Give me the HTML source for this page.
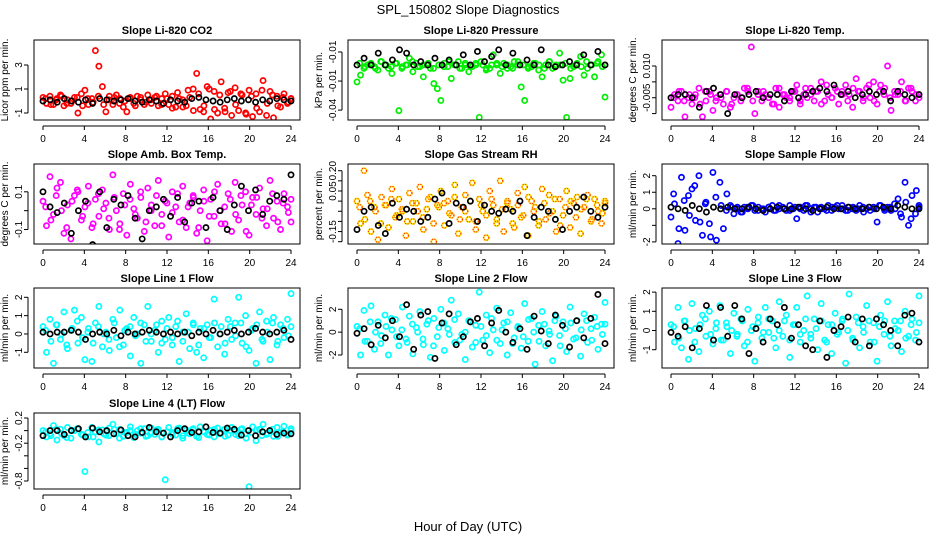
<!DOCTYPE html>
<html><head><meta charset="utf-8"><style>
html,body{margin:0;padding:0;background:#fff;}
svg{display:block;font-family:"Liberation Sans",sans-serif;}
</style></head><body>
<svg id="chart" width="936" height="540" viewBox="0 0 936 540" xmlns="http://www.w3.org/2000/svg">
<rect width="936" height="540" fill="#fff"/>
<text x="468" y="14" font-size="13" text-anchor="middle">SPL_150802  Slope Diagnostics</text>
<text x="468" y="531" font-size="13" text-anchor="middle">Hour of Day (UTC)</text>
</svg>
<script>
const xTicks = [0,4,8,12,16,20,24];

const co2Colored = [0.3,-0.2,0.4,-0.3,0.2,0.5,-0.4,0.1,-0.2,0.3,-1.0,0.6,0.9,-0.3,0.2,4.2,2.9,1.2,-0.9,0.4,-0.3,0.5,0.2,-0.5,-0.9,0.3,-0.2,0.4,0.1,-0.3,0.5,-0.2,0.3,-0.4,0.2,0.6,-0.3,0.4,-0.5,0.2,0.1,-0.4,0.3,1.0,2.3,-0.7,-0.9,1.2,-1.5,0.8,-1.0,1.6,-0.6,0.7,-1.2,1.1,-0.8,0.5,-1.0,0.9,-1.3,0.6,-0.9,1.7,-1.2,0.8,-1.4,0.4,-0.5,0.6,-0.2,0.2];
const co2Band = [0.2,-0.3,0.1,0.4,-0.2,0.0,0.3,-0.4,0.2,-0.1,0.4,-0.3,0.1,0.3,-0.2,0.0,0.2,-0.4,0.3,-0.1,0.1,0.4,-0.3,0.2,-0.6,0.7,-0.5,0.9,-0.8,0.6,-0.4,1.0,-0.7,0.5,-0.9,0.8,-0.3,0.6,-1.1,0.4,-0.6,0.9,-0.2,0.5,-0.4,0.3,-0.1,0.2];
const co2Black = [0.0,0.1,-0.1,0.2,0.0,-0.1,0.1,-0.2,0.2,0.1,0.0,0.1,0.2,0.0,-0.1,0.1,0.0,-0.2,0.1,0.0,-0.1,0.2,0.3,0.1,0.0,-0.1,0.1,0.2,0.0,0.1,-0.1,0.1,0.0,0.2,0.1,0.0];

const presColored = [-0.020,-0.016,-0.012,-0.010,-0.009,-0.011,-0.013,-0.008,-0.010,-0.012,-0.015,-0.009,-0.037,-0.011,-0.010,-0.006,-0.014,-0.009,-0.011,-0.017,-0.010,-0.012,-0.021,-0.024,-0.031,-0.009,-0.011,-0.018,-0.010,-0.008,-0.012,-0.010,-0.014,-0.011,-0.009,-0.041,-0.010,-0.013,-0.012,-0.004,-0.010,-0.015,-0.009,-0.012,-0.011,-0.008,-0.010,-0.023,-0.031,-0.012,-0.011,-0.009,-0.013,-0.017,-0.010,-0.008,-0.012,-0.010,-0.003,-0.019,-0.041,-0.018,-0.011,-0.009,-0.005,-0.016,-0.012,-0.010,-0.017,-0.008,-0.004,-0.029];
const presBand = [-0.009,-0.011,-0.010,-0.012,-0.008,-0.010,-0.011,-0.009,-0.012,-0.010,-0.008,-0.011,-0.010,-0.009,-0.012,-0.010,-0.011,-0.008,-0.010,-0.012,-0.009,-0.011,-0.010,-0.008,-0.012,-0.010,-0.009,-0.011,-0.010,-0.012,-0.008,-0.010,-0.011,-0.009,-0.010,-0.012,-0.008,-0.011,-0.010,-0.009,-0.012,-0.010,-0.011,-0.008,-0.010,-0.009,-0.011,-0.010];
const presBlack = [-0.010,-0.006,-0.010,-0.003,-0.010,-0.007,-0.001,-0.003,-0.010,-0.008,-0.010,-0.006,-0.010,-0.007,-0.010,-0.004,-0.010,-0.002,-0.008,-0.005,-0.001,-0.010,-0.003,-0.010,-0.007,-0.010,-0.001,-0.010,-0.011,-0.010,-0.008,-0.010,-0.004,-0.010,-0.002,-0.010];

const tempColored = [-0.003,0.001,-0.001,0.002,-0.006,0.000,-0.002,0.001,0.003,-0.006,-0.001,0.002,-0.004,0.000,0.001,-0.002,0.002,-0.003,0.000,0.001,-0.001,0.003,0.002,0.016,-0.005,0.002,-0.001,0.001,0.000,-0.002,0.003,-0.003,0.001,0.000,-0.001,0.002,0.004,-0.002,0.001,0.000,0.003,-0.001,0.002,0.005,-0.001,0.001,0.000,0.003,-0.002,0.002,0.004,0.001,-0.003,0.006,0.002,-0.001,0.003,0.000,0.005,-0.002,0.004,0.001,0.010,-0.004,0.002,0.001,0.005,-0.001,0.003,0.002,-0.001,0.001];
const tempBand = [0.000,0.002,-0.001,0.001,0.000,-0.002,0.002,0.001,-0.001,0.000,0.002,-0.002,0.001,0.000,0.003,-0.001,0.001,0.002,0.000,-0.002,0.003,0.001,0.000,0.002,-0.001,0.003,0.001,0.002,-0.002,0.004,0.000,0.002,0.001,-0.001,0.003,0.002,0.000,0.004,-0.001,0.002,0.003,0.000,0.001,0.002,-0.001,0.003,0.001,0.000];
const tempBlack = [0.000,0.001,0.001,0.000,-0.003,0.002,0.003,0.001,-0.005,0.001,0.000,0.001,0.002,0.000,0.001,0.001,-0.001,0.002,0.000,0.001,0.002,0.003,0.002,0.004,0.001,0.002,0.000,0.001,0.002,0.001,0.002,-0.001,0.002,0.001,0.000,0.001];

const boxColored = [0.05,-0.08,0.18,-0.02,0.12,0.15,-0.12,0.03,-0.15,0.08,0.10,-0.05,0.02,0.13,-0.09,0.06,-0.03,0.11,0.04,-0.10,0.19,0.00,-0.07,0.09,-0.13,0.14,0.01,-0.04,0.07,-0.11,0.12,0.03,-0.08,0.16,-0.02,0.05,-0.14,0.10,0.02,-0.06,0.13,-0.09,0.04,0.08,-0.12,0.00,0.11,-0.16,0.06,-0.03,0.14,-0.07,0.02,0.09,-0.11,0.15,-0.05,0.03,0.10,-0.13,0.07,-0.02,0.12,0.01,-0.08,0.16,-0.04,0.05,-0.10,0.09,0.02,-0.06];
const boxBand = [0.02,-0.05,0.08,0.00,-0.09,0.05,0.11,-0.03,0.04,-0.07,0.09,0.01,-0.04,0.07,-0.10,0.03,0.06,-0.02,0.10,-0.06,0.00,0.08,-0.08,0.04,-0.01,0.09,-0.05,0.02,0.07,-0.09,0.05,-0.03,0.10,0.00,-0.07,0.06,-0.02,0.08,-0.11,0.03,0.07,-0.04,0.01,0.09,-0.06,0.04,-0.01,0.06];
const boxBlack = [0.10,0.02,-0.01,0.04,-0.12,0.00,0.05,-0.18,0.10,-0.09,0.06,0.03,0.08,-0.04,-0.15,0.00,0.02,0.06,-0.03,0.07,-0.06,0.04,0.05,-0.09,0.07,0.00,-0.10,0.03,0.13,0.00,0.11,-0.02,0.05,0.08,0.06,0.19];

const rhColored = [0.05,-0.06,0.20,0.08,-0.10,0.02,-0.14,0.07,0.03,-0.08,0.11,-0.03,0.06,0.00,-0.12,0.09,-0.05,0.04,0.12,-0.09,0.01,0.07,-0.15,0.03,0.10,-0.07,0.05,-0.02,0.13,-0.11,0.02,0.08,-0.04,0.14,-0.09,0.06,0.00,-0.13,0.10,0.03,-0.06,0.15,-0.10,0.04,0.01,-0.08,0.09,-0.03,0.12,-0.12,0.05,0.02,-0.07,0.11,-0.04,0.08,0.00,-0.10,0.06,-0.02,0.10,-0.08,0.04,0.07,-0.11,0.02,0.08,-0.05,0.06,0.00,-0.06,0.05];
const rhBand = [0.02,-0.04,0.05,0.00,-0.06,0.03,0.06,-0.02,0.01,-0.05,0.04,0.00,-0.03,0.06,-0.06,0.02,0.04,-0.01,0.07,-0.04,0.00,0.05,-0.05,0.03,-0.02,0.06,-0.04,0.01,0.05,-0.06,0.03,-0.02,0.07,0.00,-0.05,0.04,-0.01,0.06,-0.07,0.02,0.05,-0.03,0.01,0.06,-0.04,0.03,-0.01,0.04];
const rhBlack = [-0.09,0.00,0.02,-0.07,-0.11,0.04,-0.03,0.01,0.00,-0.05,-0.03,0.06,0.09,-0.06,0.04,0.02,0.05,-0.05,0.03,0.00,-0.01,0.01,0.00,0.05,-0.12,-0.03,0.02,0.00,-0.04,-0.09,0.00,0.02,0.07,0.00,-0.03,0.02];

const sampleColored = [-0.5,0.3,-2.1,1.9,-1.3,0.8,1.2,-0.7,2.0,-1.6,0.4,-0.9,2.2,-1.9,1.6,-1.2,0.9,0.2,-0.3,0.1,-0.2,0.1,0.0,0.2,-0.1,0.1,0.0,-0.2,0.1,0.2,-0.1,0.0,0.1,-0.1,0.2,0.0,-0.6,0.1,-0.1,0.2,0.0,0.1,-0.2,0.1,0.0,0.2,-0.1,0.1,0.0,0.2,-0.1,0.1,0.0,-0.1,0.2,0.1,0.0,-0.1,0.1,-0.8,0.2,0.0,0.1,-0.1,0.3,0.6,-0.5,1.6,-1.0,0.8,-0.3,0.1];
const sampleBand = [0.9,-1.2,0.5,-0.4,1.4,-0.8,0.3,-1.7,0.7,0.2,-0.1,0.1,0.0,-0.2,0.1,0.2,-0.1,0.0,0.1,-0.1,0.2,0.0,-0.1,0.1,0.0,0.2,-0.2,0.1,0.0,-0.1,0.1,0.2,0.0,-0.1,0.1,0.0,-0.2,0.1,0.0,0.2,-0.1,0.1,0.0,-0.3,0.4,-0.6,1.1,0.2];
const sampleBlack = [0.1,0.0,-0.1,0.2,0.0,-0.2,0.1,0.0,0.1,0.0,0.0,0.1,0.0,-0.1,0.0,0.1,0.0,0.0,0.1,0.0,-0.1,0.0,0.1,0.0,0.0,0.1,0.0,0.0,0.1,0.0,0.1,0.0,0.2,0.1,0.0,0.0];

const line1Colored = [0.4,-1.0,0.8,-1.6,0.5,-0.3,1.2,-0.8,0.2,1.3,-0.5,0.9,-1.4,0.3,-1.5,0.6,1.5,-0.7,0.1,-0.9,0.8,-0.2,1.3,-0.6,0.3,-1.2,0.9,0.0,-1.6,0.5,1.5,-0.4,0.2,-1.0,0.7,-0.3,0.9,-0.6,0.4,-1.5,0.1,1.1,-0.8,0.6,-1.0,0.3,-1.3,0.5,-0.2,1.9,-0.7,0.4,-1.1,0.8,-0.3,0.6,2.0,-0.5,1.0,-0.9,0.3,-1.6,1.2,-0.4,0.7,-1.4,0.9,-0.6,0.5,-0.2,0.8,2.2];
const line1Band = [0.2,-0.4,0.5,0.0,-0.6,0.3,0.7,-0.2,0.1,-0.5,0.4,0.0,-0.3,0.6,-0.7,0.2,0.4,-0.1,0.6,-0.4,0.0,0.5,-0.5,0.3,-0.2,0.7,-0.4,0.1,0.5,-0.6,0.3,-0.2,0.6,0.0,-0.5,0.4,-0.1,0.6,-0.7,0.2,0.5,-0.3,0.1,0.6,-0.4,0.3,-0.1,0.4];
const line1Black = [0.1,0.0,0.1,0.1,0.2,0.1,-0.3,0.0,0.1,0.0,0.2,-0.1,0.1,0.0,0.1,0.2,0.1,0.0,0.1,0.0,0.1,-0.1,0.1,0.0,0.2,0.0,0.1,0.2,0.0,0.1,0.3,0.1,0.0,0.1,0.2,-0.3];

const line2Colored = [0.5,-2.0,1.9,-0.8,2.3,-1.5,0.9,-0.3,1.5,-2.0,0.2,1.1,-1.2,2.2,-0.6,1.4,-1.9,0.4,1.8,-1.1,0.7,-2.2,1.2,-0.4,2.0,-1.6,0.3,2.8,-0.9,1.6,-0.2,-2.4,1.0,-1.3,0.6,3.5,-0.7,1.5,-1.8,0.2,2.1,-1.0,0.8,-2.0,1.7,-0.5,0.4,-1.4,2.5,-0.8,1.2,-2.8,0.6,1.8,-1.2,0.1,-2.5,1.4,-0.3,0.9,-1.7,2.2,-0.6,1.0,-2.1,1.6,-0.9,0.3,1.3,-1.5,0.7,2.6];
const line2Band = [0.3,-0.8,0.9,0.0,-1.0,0.5,1.2,-0.4,0.2,-0.9,0.7,0.0,-0.6,1.0,-1.2,0.4,0.8,-0.2,1.1,-0.7,0.0,0.9,-0.9,0.5,-0.3,1.2,-0.7,0.2,0.9,-1.0,0.5,-0.4,1.1,0.0,-0.8,0.7,-0.2,1.0,-1.2,0.3,0.8,-0.5,0.2,1.0,-0.7,0.5,-0.2,0.7];
const line2Black = [-0.1,0.3,-1.1,0.6,-0.5,1.0,-0.4,2.4,-1.5,1.5,1.8,-2.3,0.8,1.6,-1.1,-0.4,0.9,1.2,-1.2,0.8,1.9,0.0,-0.9,0.3,-1.5,1.4,0.1,-1.0,1.5,0.6,-1.3,1.0,-0.5,1.2,3.3,-1.0];

const line3Colored = [0.3,-0.6,1.2,-0.9,0.5,-1.5,1.4,0.1,-1.1,0.8,-0.3,1.0,-0.7,0.4,1.3,-0.5,0.2,-1.2,0.9,-0.2,0.6,-0.8,1.1,0.0,-1.6,0.7,-0.4,1.2,-0.1,0.5,-0.9,1.5,-0.3,0.8,-1.4,0.3,1.2,-0.6,0.0,1.8,-0.2,0.6,-1.0,1.4,-0.5,0.3,-1.2,0.9,-0.1,0.5,-1.7,1.9,-0.4,0.7,-0.9,0.2,1.3,-0.6,0.4,-1.6,0.8,-0.2,1.5,-0.8,0.5,0.0,-1.1,1.0,-0.3,0.6,-0.5,1.8];
const line3Band = [0.2,-0.4,0.5,0.0,-0.6,0.3,0.6,-0.2,0.1,-0.5,0.4,0.0,-0.3,0.5,-0.6,0.2,0.4,-0.1,0.6,-0.4,0.0,0.5,-0.5,0.3,-0.2,0.6,-0.4,0.1,0.5,-0.6,0.3,-0.2,0.6,0.0,-0.5,0.4,-0.1,0.5,-0.6,0.2,0.5,-0.3,0.1,0.5,-0.4,0.3,-0.1,0.4];
const line3Black = [-0.1,-0.3,0.2,-0.9,0.1,1.3,-0.5,1.2,-0.3,1.3,0.6,-1.2,0.1,-0.6,0.6,0.3,1.2,-0.4,0.3,-0.8,-1.0,0.5,-1.4,0.0,0.2,0.7,-0.6,0.6,-0.8,0.6,0.3,0.0,-0.8,0.8,0.9,-0.6];

const line4Colored = [0.0,-0.1,-0.05,0.08,-0.15,0.02,-0.08,0.05,-0.12,0.0,0.03,-0.06,-0.65,-0.1,0.05,-0.02,-0.18,0.01,-0.07,0.04,0.1,-0.05,0.02,-0.09,-0.03,0.06,-0.11,0.0,-0.04,0.03,-0.08,0.04,-0.06,0.02,-0.1,-0.78,0.05,-0.03,-0.07,0.04,-0.12,0.01,-0.05,0.03,-0.09,0.06,-0.02,-0.06,0.0,-0.1,0.04,-0.04,0.02,-0.07,0.05,-0.01,-0.08,0.03,-0.05,-0.89,0.06,-0.16,0.02,0.1,-0.06,0.0,-0.09,0.05,-0.03,0.07,-0.07,0.03];
const line4Band = [-0.02,-0.08,0.02,-0.05,-0.11,0.0,0.03,-0.07,-0.03,-0.10,0.01,-0.05,-0.08,0.02,-0.12,-0.03,0.0,-0.06,0.03,-0.09,-0.04,0.01,-0.10,-0.02,-0.06,0.03,-0.08,-0.04,0.01,-0.11,-0.02,-0.07,0.02,-0.05,-0.09,0.0,-0.06,0.02,-0.12,-0.03,0.01,-0.08,-0.04,0.02,-0.09,-0.01,-0.06,0.0];
const line4Black = [-0.08,0.0,0.0,-0.06,0.0,0.03,-0.1,0.04,-0.02,0.0,-0.05,0.01,-0.08,-0.1,-0.03,0.05,-0.02,-0.04,-0.1,0.0,0.03,-0.03,-0.02,0.06,-0.03,-0.04,0.04,0.02,-0.07,0.0,-0.08,-0.02,0.0,-0.06,-0.04,-0.05];

const co2Ticks=[-1,1,3], co2TickLabels=["-1","1","3"];
const presTicks=[-0.0023,-0.0195,-0.0367], presTickLabels=["-0.01","-0.01","-0.04"];
const tempTicks=[0.010,0.005,0.0,-0.005], tempTickLabels=["0.010","","-0.005",""];
const boxTicks=[-0.1,0,0.1], boxTickLabels=["-0.1","","0.1"];
const rhTicks=[0.2,0.15,0.1,0.05,0,-0.05,-0.1,-0.15], rhTickLabels=["0.20","","0.05","","","","-0.15",""];
const sampleTicks=[-2,-1,0,1,2], sampleTickLabels=["-2","","0","1","2"];
const line1Ticks=[-1,0,1,2], line1TickLabels=["-1","0","1","2"];
const line2Ticks=[-2,0,2], line2TickLabels=["-2","0","2"];
const line3Ticks=[-1,0,1,2], line3TickLabels=["-1","0","1","2"];
const line4Ticks=[0.2,0,-0.2,-0.4,-0.6,-0.8], line4TickLabels=["0.2","","-0.2","","","-0.8"];

const panels = [
 {key:"co2",title:"Slope Li-820 CO2",ylab:"Licor ppm per min.",col:0,row:0,ref:[1,89,-1,113],c:co2Colored,d:co2Band,b:co2Black,t:co2Ticks,tl:co2TickLabels,stroke:"#ff0000"},
 {key:"pressure",title:"Slope Li-820 Pressure",ylab:"kPa per min.",col:1,row:0,ref:[-0.0106,66,-0.04,115.7],c:presColored,d:presBand,b:presBlack,t:presTicks,tl:presTickLabels,stroke:"#00ee00"},
 {key:"temp",title:"Slope Li-820 Temp.",ylab:"degrees C per min.",col:2,row:0,ref:[0.010,66,-0.005,113.6],c:tempColored,d:tempBand,b:tempBlack,t:tempTicks,tl:tempTickLabels,stroke:"#ff00ff"},
 {key:"amb-box-temp",title:"Slope Amb. Box Temp.",ylab:"degrees C per min.",col:0,row:1,ref:[0.1,191.8,-0.1,229.5],c:boxColored,d:boxBand,b:boxBlack,t:boxTicks,tl:boxTickLabels,stroke:"#ff00ff"},
 {key:"gas-stream-rh",title:"Slope Gas Stream RH",ylab:"percent per min.",col:1,row:1,ref:[0.2,170.7,-0.15,241.7],c:rhColored,d:rhBand,b:rhBlack,t:rhTicks,tl:rhTickLabels,stroke:"#ffe000",dash:"#ff3000"},
 {key:"sample-flow",title:"Slope Sample Flow",ylab:"ml/min per min.",col:2,row:1,ref:[2,175.7,-2,241.9],c:sampleColored,d:sampleBand,b:sampleBlack,t:sampleTicks,tl:sampleTickLabels,stroke:"#0000ff"},
 {key:"line1-flow",title:"Slope Line 1 Flow",ylab:"ml/min per min.",col:0,row:2,ref:[2,297.3,-1,352.3],c:line1Colored,d:line1Band,b:line1Black,t:line1Ticks,tl:line1TickLabels,stroke:"#00ffff"},
 {key:"line2-flow",title:"Slope Line 2 Flow",ylab:"ml/min per min.",col:1,row:2,ref:[2,309.3,-2,355],c:line2Colored,d:line2Band,b:line2Black,t:line2Ticks,tl:line2TickLabels,stroke:"#00ffff"},
 {key:"line3-flow",title:"Slope Line 3 Flow",ylab:"ml/min per min.",col:2,row:2,ref:[1,311.3,-1,349.7],c:line3Colored,d:line3Band,b:line3Black,t:line3Ticks,tl:line3TickLabels,stroke:"#00ffff"},
 {key:"line4-flow",title:"Slope Line 4 (LT) Flow",ylab:"ml/min per min.",col:0,row:3,ref:[0.2,418,-0.8,481],c:line4Colored,d:line4Band,b:line4Black,t:line4Ticks,tl:line4TickLabels,stroke:"#00ffff"}
];

const NS="http://www.w3.org/2000/svg";
const svg=document.getElementById("chart");
function mk(tag,attrs,parent){const e=document.createElementNS(NS,tag);for(const k in attrs)e.setAttribute(k,attrs[k]);(parent||svg).appendChild(e);return e;}

panels.forEach(p=>{
 const x0=43+314*p.col;
 const left=x0-9, right=x0+257;
 const top=p.row<3?40+124*p.row:413;
 const bottom=p.row<3?top+80:489;
 const xs=h=>x0+h*(248/24);
 const [v1,y1,v2,y2]=p.ref;
 const ys=v=>y1+(v-v1)*(y2-y1)/(v2-v1);
 const g=mk("g",{});
 
 
 const ti=mk("text",{x:(left+right)/2,y:top-6,"font-size":"11","font-weight":"bold","text-anchor":"middle"},g);
 ti.textContent=p.title;
 
 
 const yl=mk("text",{transform:`translate(${left-26},${(top+bottom)/2}) rotate(-90)`,"font-size":"10","text-anchor":"middle"},g);
 yl.textContent=p.ylab;
 
 
 const clip="clip-"+p.key;
 const cp=mk("clipPath",{id:clip},g);
 mk("rect",{x:left,y:top,width:right-left,height:bottom-top},cp);
 const pts=mk("g",{"clip-path":`url(#${clip})`},g);
 
 
 function drawSeries(arr,offset){
  const n=arr.length;
  arr.forEach((v,i)=>{
   const h=Math.min(24,(i+offset)*24/(n-1));
   const c=mk("circle",{cx:xs(h),cy:ys(v),r:2.6,fill:"none",stroke:p.stroke,"stroke-width":1.7},pts);
   
   
   if(p.dash){mk("circle",{cx:xs(h),cy:ys(v),r:2.6,fill:"none",stroke:p.dash,"stroke-width":1.2,"stroke-dasharray":"1 1.5"},pts);}
  });
 }
 drawSeries(p.c,0);
 drawSeries(p.d,0.5);
 const nb=p.b.length;
 p.b.forEach((v,i)=>{
  const h=i*24/(nb-1);
  const c=mk("circle",{cx:xs(h),cy:ys(v),r:2.6,fill:"none",stroke:"#000","stroke-width":1.7},pts);
  
  
 });
 const box=mk("rect",{x:left,y:top,width:right-left,height:bottom-top,fill:"none",stroke:"#000","stroke-width":1},g);
 
 
 mk("line",{x1:xs(0),x2:xs(24),y1:bottom+6,y2:bottom+6,stroke:"#000"},g);
 xTicks.forEach(t=>{
  mk("line",{x1:xs(t),x2:xs(t),y1:bottom+6,y2:bottom+10,stroke:"#000"},g);
  const tx=mk("text",{x:xs(t),y:bottom+22,"font-size":"10","text-anchor":"middle"},g);
  tx.textContent=t;
  
  
 });
 const tys=p.t.map(ys);
 mk("line",{x1:left-6,x2:left-6,y1:Math.min(...tys),y2:Math.max(...tys),stroke:"#000"},g);
 p.t.forEach((t,i)=>{
  const y=ys(t);
  mk("line",{x1:left-10,x2:left-6,y1:y,y2:y,stroke:"#000"},g);
  if(p.tl[i]){
   const tx=mk("text",{transform:`translate(${left-12},${y}) rotate(-90)`,"font-size":"10","text-anchor":"middle"},g);
   tx.textContent=p.tl[i];
   
   
  }
 });
});
</script>
</body></html>
